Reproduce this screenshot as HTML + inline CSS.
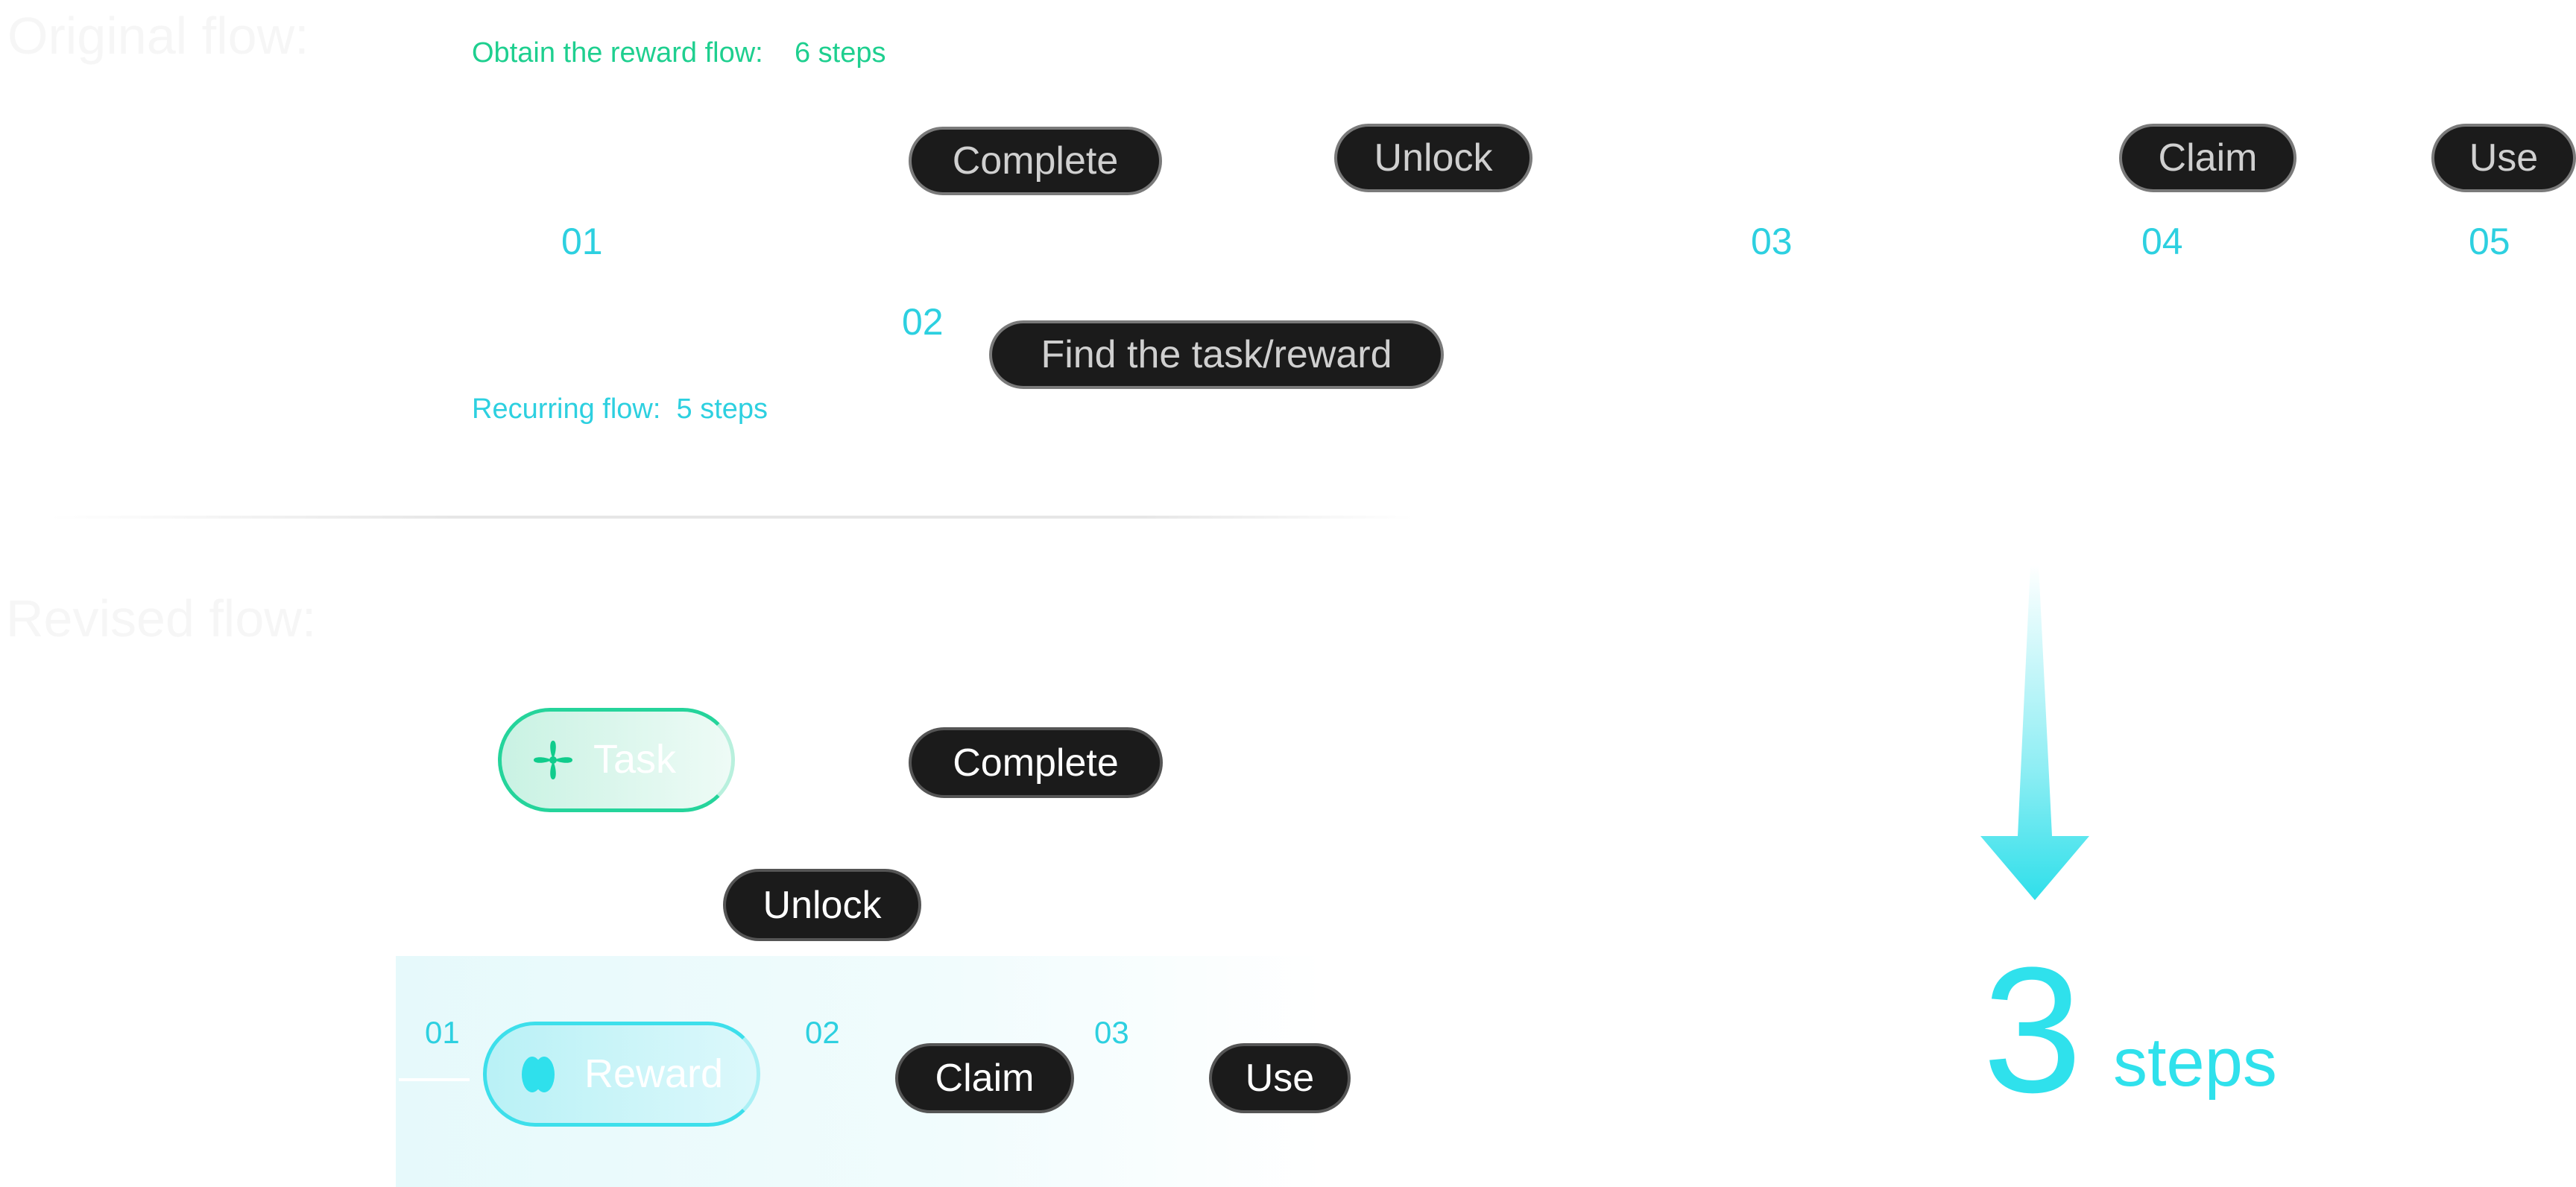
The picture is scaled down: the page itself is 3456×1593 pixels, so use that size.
<!DOCTYPE html>
<html><head><meta charset="utf-8"><style>
*{margin:0;padding:0;box-sizing:border-box}
body{width:3456px;height:1593px;background:#fff;position:relative;overflow:hidden;font-family:"Liberation Sans",sans-serif}
.a{position:absolute}
.pill{position:absolute;background:#1b1b1b;border:4px solid #7a7a7a;border-radius:60px;color:#d0d0d0;font-size:52px;display:flex;align-items:center;justify-content:center;white-space:nowrap}
.pw{color:#fff;border-color:#555}
.num{position:absolute;color:#2dd0e0;font-size:50px}
.lbl{position:absolute;font-size:38px;white-space:nowrap}
.faint{position:absolute;color:#f6f6f6;font-size:70px;white-space:nowrap}
</style></head><body>
<div class="faint" style="left:10px;top:8px">Original flow:</div>
<div class="faint" style="left:8px;top:790px">Revised flow:</div>
<div class="lbl" style="left:633px;top:50px;color:#1ecf8f">Obtain the reward flow:&nbsp;&nbsp;&nbsp; 6 steps</div>
<div class="lbl" style="left:633px;top:528px;color:#2dd0e0">Recurring flow:&nbsp;&nbsp;5 steps</div>

<div class="pill" style="left:1219px;top:170px;width:340px;height:92px">Complete</div>
<div class="pill" style="left:1790px;top:166px;width:266px;height:92px">Unlock</div>
<div class="pill" style="left:2843px;top:166px;width:238px;height:92px">Claim</div>
<div class="pill" style="left:3262px;top:166px;width:194px;height:92px">Use</div>
<div class="pill" style="left:1327px;top:430px;width:610px;height:92px">Find the task/reward</div>

<div class="num" style="left:753px;top:295px">01</div>
<div class="num" style="left:1210px;top:403px">02</div>
<div class="num" style="left:2349px;top:295px">03</div>
<div class="num" style="left:2873px;top:295px">04</div>
<div class="num" style="left:3312px;top:295px">05</div>

<div class="a" style="left:66px;top:692px;width:1830px;height:4px;background:linear-gradient(90deg,#fff,#e6e6e6 30%,#e6e6e6 80%,#fff)"></div>

<!-- revised -->
<div class="a" style="left:531px;top:1283px;width:1245px;height:310px;background:linear-gradient(90deg,#e6f9fb,#f1fcfd 60%,#fff)"></div>
<div class="a" style="left:668px;top:950px;width:318px;height:140px;border-radius:70px;border:5px solid #25d49b;background:linear-gradient(90deg,#c9f2e3,#eefbf6);border-right-color:#b8f0dd"></div>
<div class="a" style="left:712px;top:990px;width:60px;height:60px">
<svg width="60" height="60" viewBox="0 0 60 60"><path d="M30 4 C36 4 34 22 30 28 C26 22 24 4 30 4Z M30 56 C24 56 26 38 30 32 C34 38 36 56 30 56Z M4 30 C4 24 22 26 28 30 C22 34 4 36 4 30Z M56 30 C56 36 38 34 32 30 C38 26 56 24 56 30Z" fill="#10cc8c"/><circle cx="30" cy="30" r="5" fill="#10cc8c"/></svg></div>
<div class="a" style="left:796px;top:988px;font-size:54px;color:#fff">Task</div>

<div class="pill pw" style="left:1219px;top:976px;width:341px;height:95px">Complete</div>
<div class="pill pw" style="left:970px;top:1166px;width:266px;height:97px">Unlock</div>

<div class="a" style="left:648px;top:1371px;width:372px;height:141px;border-radius:70px;border:5px solid #3ddfeb;background:linear-gradient(90deg,#b9f1f6,#dcf8fb);border-right-color:#aaf0f5"></div>
<div class="a" style="left:692px;top:1412px;width:60px;height:60px"><svg width="60" height="60"><ellipse cx="22" cy="30" rx="14" ry="24" fill="#2fe0ec"/><ellipse cx="38" cy="30" rx="14" ry="24" fill="#2fe0ec"/></svg></div>
<div class="a" style="left:784px;top:1410px;font-size:54px;color:#fff">Reward</div>
<div class="a" style="left:535px;top:1447px;width:95px;height:4px;background:#fff"></div>

<div class="pill pw" style="left:1201px;top:1400px;width:240px;height:94px">Claim</div>
<div class="pill pw" style="left:1622px;top:1400px;width:190px;height:94px">Use</div>
<div class="num" style="left:570px;top:1362px;font-size:42px">01</div>
<div class="num" style="left:1080px;top:1362px;font-size:42px">02</div>
<div class="num" style="left:1468px;top:1362px;font-size:42px">03</div>

<!-- big arrow -->
<svg class="a" style="left:0;top:0" width="3456" height="1593">
<defs><linearGradient id="g" x1="0" y1="0" x2="0" y2="1"><stop offset="0" stop-color="#fff"/><stop offset="0.6" stop-color="#90eef4"/><stop offset="1" stop-color="#2fdfea"/></linearGradient></defs>
<path d="M2724 758 L2735 758 L2753 1122 L2803 1122 L2730 1208 L2657 1122 L2707 1122 Z" fill="url(#g)"/>
</svg>
<div class="a" style="left:2660px;top:1262px;font-size:240px;line-height:1;color:#2fe1ec">3</div>
<div class="a" style="left:2835px;top:1380px;font-size:92px;line-height:1;color:#2fe1ec">steps</div>
</body></html>
